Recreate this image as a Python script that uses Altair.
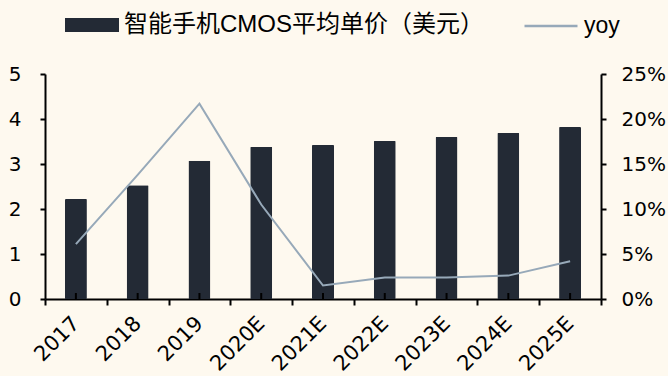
import altair as alt
import pandas as pd

years = ['2017', '2018', '2019', '2020E', '2021E', '2022E', '2023E', '2024E', '2025E']
price = [2.22, 2.53, 3.07, 3.38, 3.42, 3.51, 3.60, 3.69, 3.82]
yoy = [0.061, 0.138, 0.217, 0.105, 0.015, 0.024, 0.024, 0.026, 0.042]

bar_name = '智能手机CMOS平均单价（美元）'
line_name = 'yoy'

df = pd.DataFrame({'year': years, 'price': price, 'yoy': yoy,
                   'bs': [bar_name] * len(years), 'ls': [line_name] * len(years)})

BAR = '#232A35'
LINE = '#97A9B9'
BG = '#FEF9EF'
FONT = 'DejaVu Sans'

xenc = alt.X('year:N', sort=years, title=None,
             scale=alt.Scale(paddingInner=0, paddingOuter=0),
             axis=alt.Axis(labelAngle=-45, tickBand='extent', labelFontSize=21,
                           labelFont=FONT, labelPadding=15, labelBaseline='middle',
                           labelAlign='right', tickSize=6))

bars = alt.Chart(df).mark_bar(width=22, cornerRadius=1).encode(
    x=xenc,
    y=alt.Y('price:Q', title=None,
            scale=alt.Scale(domain=[0, 5], nice=False),
            axis=alt.Axis(values=[0, 1, 2, 3, 4, 5], labelFontSize=20, labelFont=FONT,
                          labelPadding=19, tickSize=5, format='d')),
    fill=alt.Fill('bs:N', title=None,
                  scale=alt.Scale(domain=[bar_name], range=[BAR]),
                  legend=alt.Legend(orient='none', legendX=20, legendY=-76,
                                    symbolType='M-1,-0.26L1,-0.26L1,0.26L-1,0.26Z',
                                    symbolSize=2916, symbolStrokeWidth=0,
                                    labelFontSize=24, labelFont='Liberation Sans, Noto Sans CJK SC',
                                    labelOffset=5, padding=0, labelLimit=500))
)

center_ticks = alt.Chart(df).mark_rule(color='black', strokeWidth=2).encode(
    x=alt.X('year:N', sort=years),
    y=alt.value(225),
    y2=alt.value(219)
)

line = alt.Chart(df).mark_line(strokeWidth=2).encode(
    x=alt.X('year:N', sort=years),
    y=alt.Y('yoy:Q', title=None,
            scale=alt.Scale(domain=[0, 0.25], nice=False),
            axis=alt.Axis(orient='right', values=[0, 0.05, 0.10, 0.15, 0.20, 0.25],
                          format='.0%', labelFontSize=20, labelFont=FONT,
                          labelPadding=15, tickSize=5)),
    stroke=alt.Stroke('ls:N', title=None,
                      scale=alt.Scale(domain=[line_name], range=[LINE]),
                      legend=alt.Legend(orient='none', legendX=478, legendY=-76,
                                        symbolType='stroke', symbolSize=2809,
                                        symbolStrokeWidth=2.5,
                                        labelFontSize=23, labelFont='Liberation Sans',
                                        labelOffset=5, padding=0))
)

chart = alt.layer(bars, center_ticks, line).resolve_scale(
    y='independent', fill='independent', stroke='independent'
).properties(
    width=556, height=225,
    autosize=alt.AutoSizeParams(type='none'),
    padding={'left': 45, 'top': 74, 'right': 67, 'bottom': 77},
    background=BG
).configure_view(stroke=None).configure_axis(
    domainColor='black', domainWidth=2, tickColor='black', tickWidth=2,
    labelColor='black', grid=False
).configure_legend(labelColor='black')

chart.save('out.html', embed_options={'renderer': 'svg', 'actions': False})
